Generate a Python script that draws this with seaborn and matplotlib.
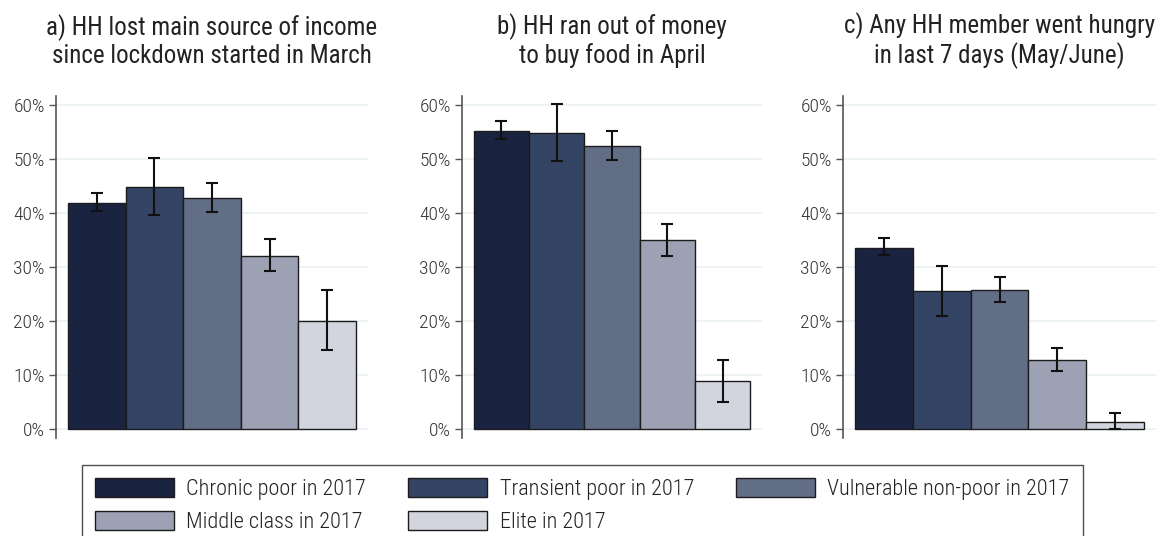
import matplotlib
matplotlib.use("Agg")
import matplotlib.pyplot as plt
import seaborn as sns
import pandas as pd
from matplotlib import font_manager
from matplotlib.patches import Patch

# Data (share of households, %)
groups = ["Chronic poor in 2017", "Transient poor in 2017", "Vulnerable non-poor in 2017",
          "Middle class in 2017", "Elite in 2017"]
colors = ["#1a2340", "#344464", "#626d86", "#9ca2b3", "#d2d5de"]

titles = ["a) HH lost main source of income\nsince lockdown started in March",
          "b) HH ran out of money\nto buy food in April",
          "c) Any HH member went hungry\nin last 7 days (May/June)"]

lost_income = [41.9, 44.8, 42.8, 32.1, 20.0]
lost_income_lo = [40.3, 39.6, 40.2, 29.2, 14.6]
lost_income_hi = [43.7, 50.2, 45.6, 35.1, 25.7]

no_money = [55.3, 54.9, 52.4, 35.0, 8.8]
no_money_lo = [53.8, 49.6, 49.9, 32.1, 5.0]
no_money_hi = [57.1, 60.2, 55.2, 38.0, 12.8]

hungry = [33.6, 25.5, 25.8, 12.8, 1.3]
hungry_lo = [32.2, 20.9, 23.5, 10.8, 0.0]
hungry_hi = [35.3, 30.2, 28.2, 14.9, 2.9]

yticks = [0, 10, 20, 30, 40, 50, 60]

sns.set_theme(style="white")
avail = {f.name for f in font_manager.fontManager.ttflist}
fam = next(f for f in ["Roboto Condensed", "Liberation Sans Narrow", "Roboto", "DejaVu Sans"] if f in avail)
plt.rcParams["font.family"] = [fam, "DejaVu Sans"]
plt.rcParams["font.weight"] = 300

fig = plt.figure(figsize=(11.67, 5.36), dpi=100)
boxes = [(56, 368), (462, 762), (843, 1156)]
panels = [(lost_income, lost_income_lo, lost_income_hi),
          (no_money, no_money_lo, no_money_hi),
          (hungry, hungry_lo, hungry_hi)]

W, H = 1167, 536
for (x0, x1), (vals, lo, hi), title in zip(boxes, panels, titles):
    ax = fig.add_axes([x0 / W, (H - 438) / H, (x1 - x0) / W, (438 - 96) / H])
    df = pd.DataFrame({"group": groups, "value": vals})
    sns.barplot(data=df, x="group", y="value", hue="group", palette=colors,
                saturation=1, width=1.0, errorbar=None, legend=False,
                edgecolor="#1c1c1c", linewidth=1.0, ax=ax)
    ax.errorbar(range(len(vals)), vals,
                yerr=[[v - l for v, l in zip(vals, lo)], [h - v for v, h in zip(vals, hi)]],
                fmt="none", ecolor="#111111", elinewidth=1.5, capsize=4, capthick=1.5)
    ax.set_xlim(-0.71, 4.71)
    ax.set_ylim(-1.7, 61.7)
    ax.set_yticks(yticks)
    ax.set_yticklabels([f"{t}%" for t in yticks])
    ax.yaxis.grid(True, color="#eaf0f3", linewidth=1.2)
    ax.set_axisbelow(True)
    ax.set_xticks([])
    ax.set_xlabel("")
    ax.set_ylabel("")
    for s in ["top", "right", "bottom"]:
        ax.spines[s].set_visible(False)
    ax.spines["left"].set_color("#555555")
    ax.spines["left"].set_linewidth(1.2)
    ax.tick_params(axis="y", left=True, length=5, width=1, color="#555555",
                   labelsize=14, labelcolor="#333333", pad=3)
    ax.set_title(title, fontsize=18, color="#222222", pad=24, linespacing=1.15)

# legend filled row by row, as in the original
order = [0, 3, 1, 4, 2]
handles = [Patch(facecolor=colors[i], edgecolor="#1c1c1c", linewidth=1.0) for i in order]
labels = [groups[i] for i in order]
leg = fig.legend(handles, labels, loc="upper left", ncol=3,
                 bbox_to_anchor=(82 / W, 1 - 465 / H),
                 frameon=True, fancybox=False, fontsize=16,
                 handlelength=3.55, handleheight=0.9, handletextpad=0.55,
                 columnspacing=1.9, labelspacing=0.5, borderpad=0.6,
                 borderaxespad=0)
leg.get_frame().set_edgecolor("#222222")
leg.get_frame().set_linewidth(1.0)
for t in leg.get_texts():
    t.set_color("#222222")

fig.savefig("out.png", dpi=100)
